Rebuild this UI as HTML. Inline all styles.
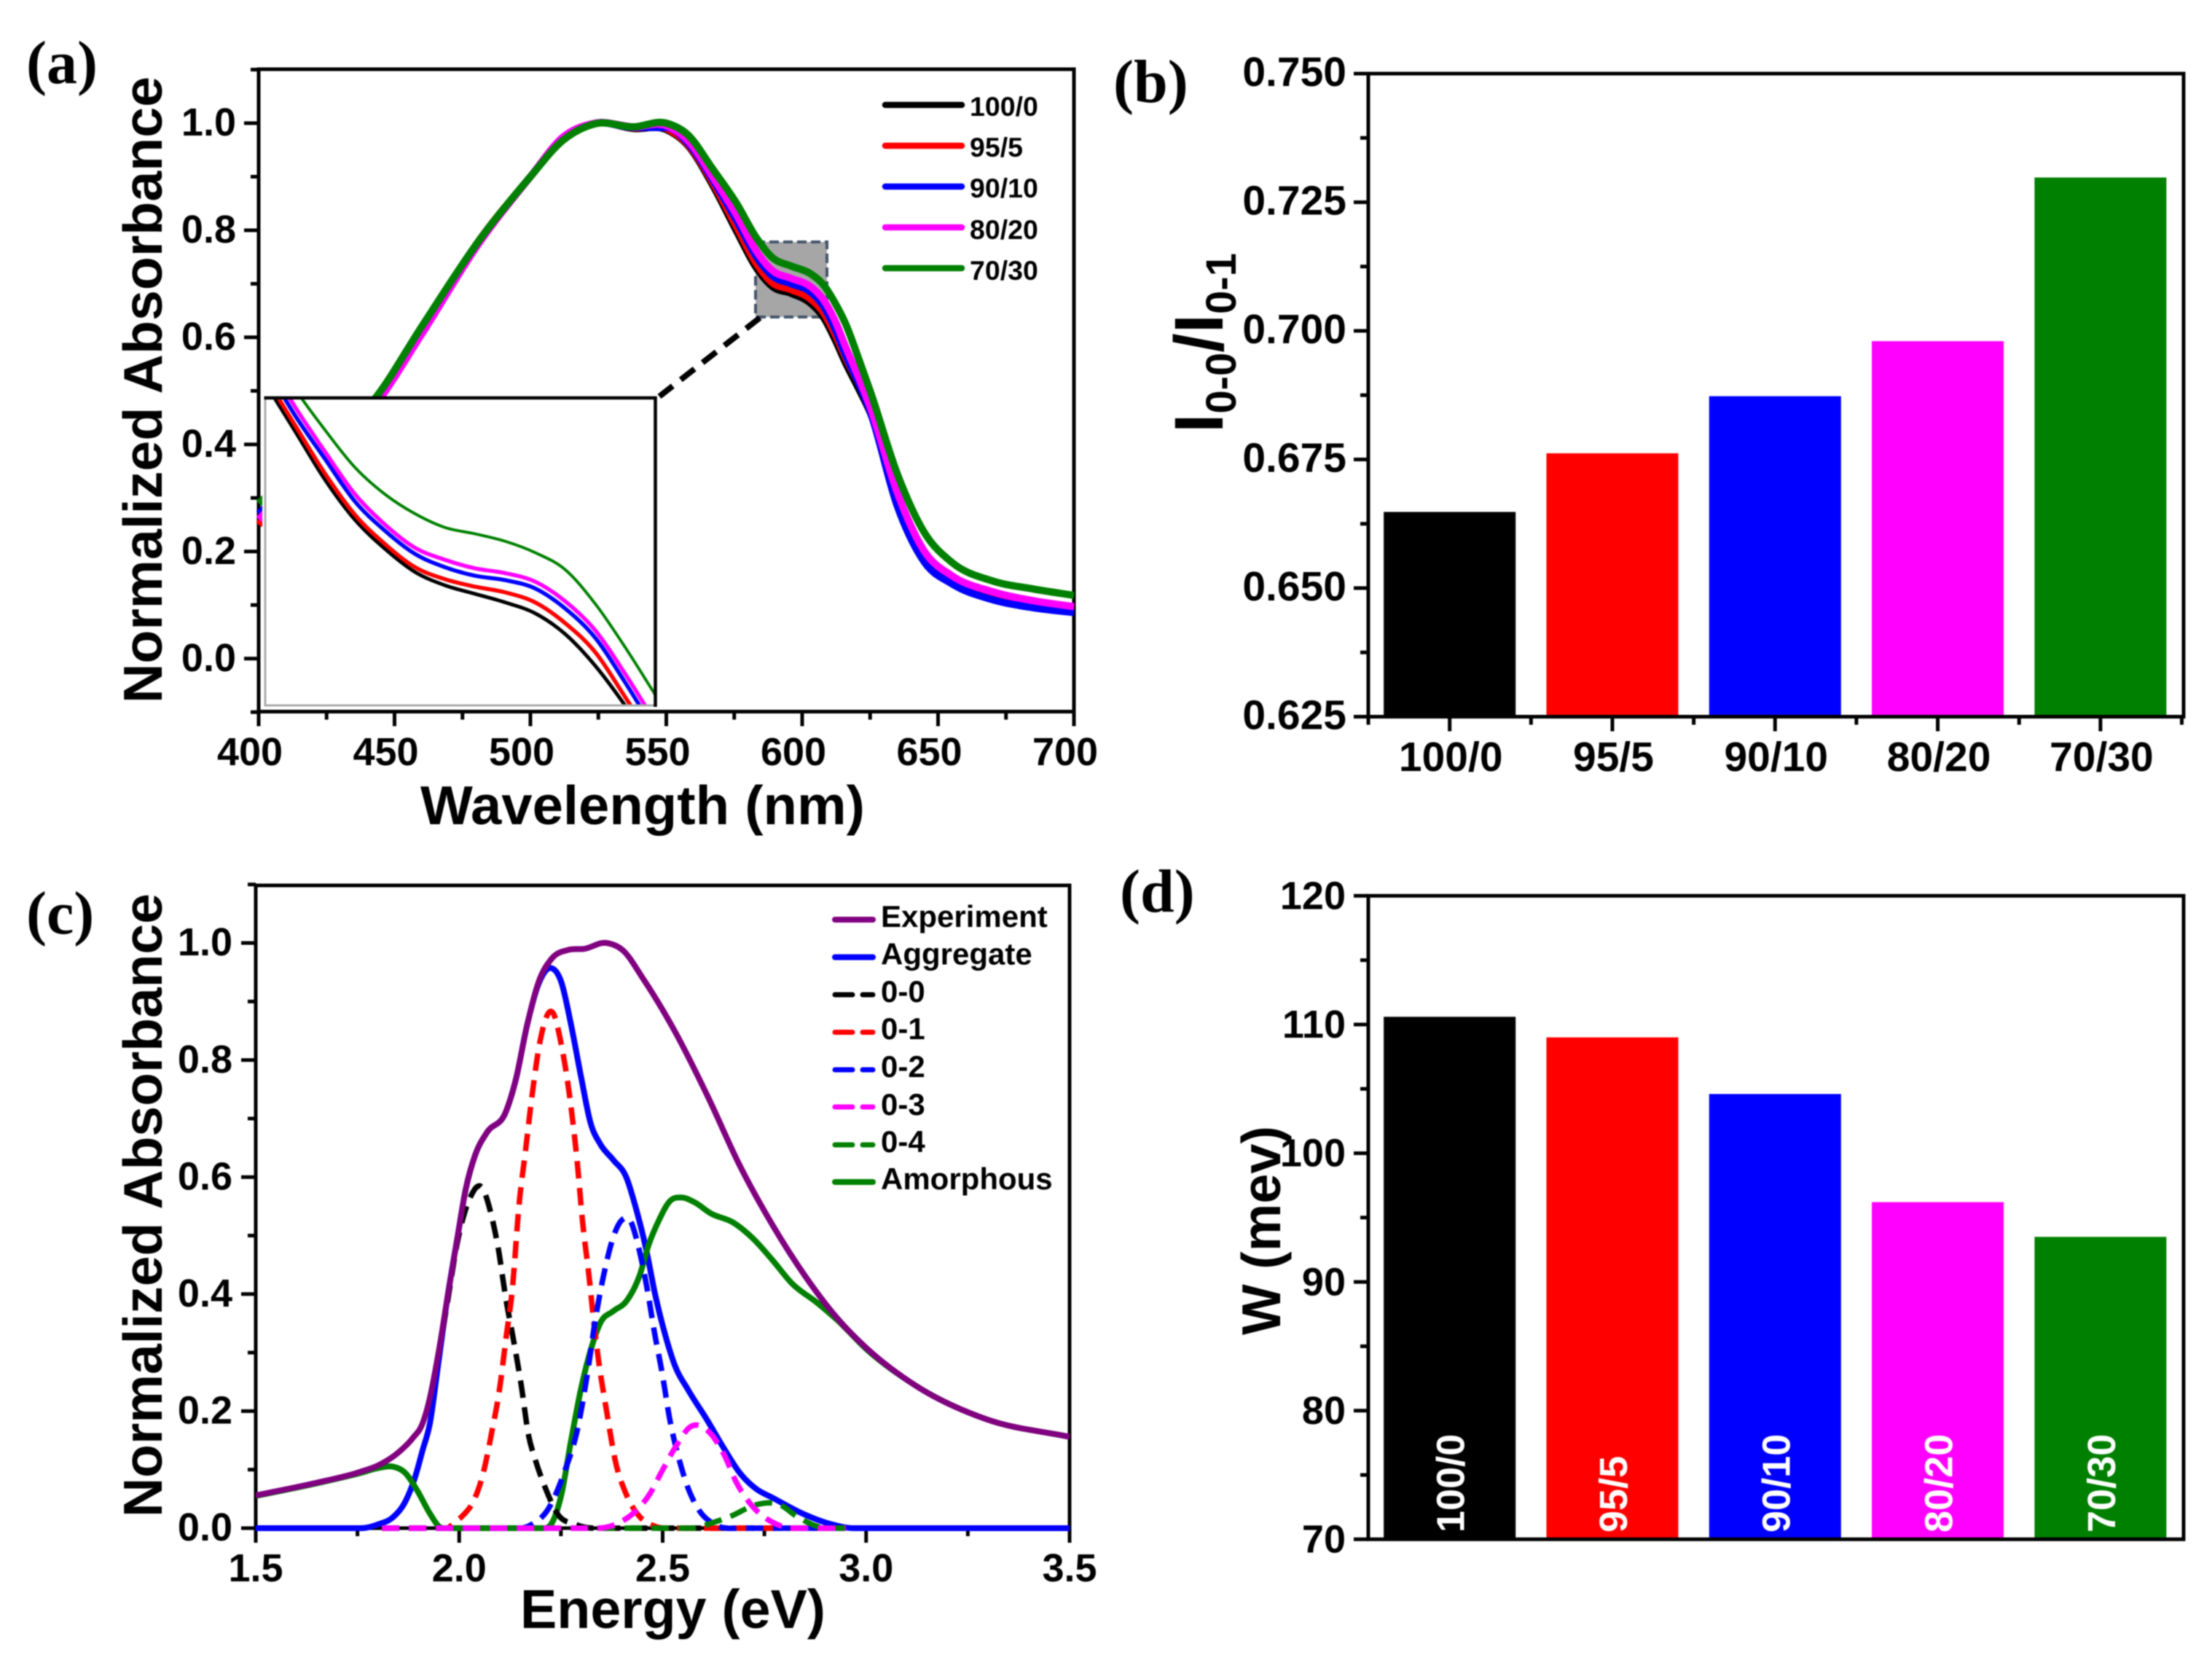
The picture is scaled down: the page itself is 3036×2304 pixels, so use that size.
<!DOCTYPE html>
<html lang="en">
<head>
<meta charset="utf-8">
<title>Absorbance panels</title>
<style>
html,body{margin:0;padding:0;background:#fff;}
svg{display:block;filter:blur(0.7px);}
text{font-family:"Liberation Sans",sans-serif;font-weight:bold;fill:#000;}
.panel-letter{font-family:"Liberation Serif",serif;font-size:84px;}
.axis-title{font-size:75px;}
.leg-a{font-size:37.5px;}
.leg-c{font-size:42px;}
.bar-label{font-size:54px;fill:#fff;}
</style>
</head>
<body>
<svg id="fig" xmlns="http://www.w3.org/2000/svg" width="3036" height="2304" viewBox="0 0 3036 2304">
<rect width="3036" height="2304" fill="#fff"/>
<defs>
<clipPath id="clip-a"><rect x="352" y="95" width="1124" height="882"/></clipPath>
<clipPath id="clip-inset"><rect x="365" y="548" width="533" height="419"/></clipPath>
<clipPath id="clip-c"><rect x="351" y="1215" width="1118" height="886"/></clipPath>
</defs>

<text class="panel-letter" x="36" y="114">(a)</text>
<text class="panel-letter" x="1528" y="140">(b)</text>
<text class="panel-letter" x="36" y="1281">(c)</text>
<text class="panel-letter" x="1537" y="1251">(d)</text>

<g id="panel-a"></g>
<g id="panel-b"></g>
<g id="panel-c"></g>
<g id="panel-d"></g>

<text class="axis-title" transform="translate(222,965) rotate(-90)" textLength="860" lengthAdjust="spacingAndGlyphs">Normalized Absorbance</text>
<text class="axis-title" x="577" y="1131" textLength="610" lengthAdjust="spacingAndGlyphs">Wavelength (nm)</text>
<text class="axis-title" transform="translate(222,2082) rotate(-90)" textLength="856" lengthAdjust="spacingAndGlyphs">Normalized Absorbance</text>
<text class="axis-title" x="714" y="2234" textLength="419" lengthAdjust="spacingAndGlyphs">Energy (eV)</text>
<text transform="translate(1678,594) rotate(-90)" font-size="95">I<tspan font-size="58" dy="18">0-0</tspan><tspan dy="-18">/I</tspan><tspan font-size="58" dy="18">0-1</tspan></text>
<text class="axis-title" transform="translate(1757,1832) rotate(-90)" textLength="287" lengthAdjust="spacingAndGlyphs">W (mev)</text>

<g stroke-linecap="round">
<line x1="1215" x2="1320" y1="144" y2="144" stroke="#000" stroke-width="8.5"/>
<text class="leg-a" x="1331" y="159">100/0</text>
<line x1="1215" x2="1320" y1="200" y2="200" stroke="#f00" stroke-width="8.5"/>
<text class="leg-a" x="1331" y="215">95/5</text>
<line x1="1215" x2="1320" y1="256" y2="256" stroke="#00f" stroke-width="8.5"/>
<text class="leg-a" x="1331" y="271">90/10</text>
<line x1="1215" x2="1320" y1="312" y2="312" stroke="#f0f" stroke-width="8.5"/>
<text class="leg-a" x="1331" y="328">80/20</text>
<line x1="1215" x2="1320" y1="368" y2="368" stroke="#008000" stroke-width="8.5"/>
<text class="leg-a" x="1331" y="384">70/30</text>
</g>

<g stroke-linecap="round">
<line x1="1146" x2="1198" y1="1262" y2="1262" stroke="#800080" stroke-width="8"/>
<text class="leg-c" x="1209" y="1272">Experiment</text>
<line x1="1146" x2="1198" y1="1313.5" y2="1313.5" stroke="#00f" stroke-width="8"/>
<text class="leg-c" x="1209" y="1323.5">Aggregate</text>
<line x1="1146" x2="1198" y1="1365" y2="1365" stroke="#000" stroke-width="7" stroke-dasharray="24 14"/>
<text class="leg-c" x="1209" y="1375">0-0</text>
<line x1="1146" x2="1198" y1="1416.5" y2="1416.5" stroke="#f00" stroke-width="7" stroke-dasharray="24 14"/>
<text class="leg-c" x="1209" y="1426">0-1</text>
<line x1="1146" x2="1198" y1="1468" y2="1468" stroke="#00f" stroke-width="7" stroke-dasharray="24 14"/>
<text class="leg-c" x="1209" y="1478">0-2</text>
<line x1="1146" x2="1198" y1="1519" y2="1519" stroke="#f0f" stroke-width="7" stroke-dasharray="24 14"/>
<text class="leg-c" x="1209" y="1530">0-3</text>
<line x1="1146" x2="1198" y1="1571" y2="1571" stroke="#008000" stroke-width="7" stroke-dasharray="24 14"/>
<text class="leg-c" x="1209" y="1581">0-4</text>
<line x1="1146" x2="1198" y1="1622" y2="1622" stroke="#008000" stroke-width="8"/>
<text class="leg-c" x="1209" y="1632">Amorphous</text>
</g>
</svg>

<script>
// ---------- panel (a) data ----------
const wavelengths = [400,420,443,460,481,500,512,524,538,550,558,567,576,583,589,596,603,608,612,616,621,625,635,645,655,670,685,700];
const abs100 = [.25,.37,.48,.612,.78,.90,.972,1.0,.99,.988,.958,.885,.797,.731,.695,.682,.664,.636,.597,.552,.502,.46,.30,.19,.15,.12,.105,.092];
const abs95 = [.25,.372,.48,.612,.78,.90,.972,1.0,.991,.99,.96,.89,.805,.739,.702,.689,.672,.645,.607,.562,.512,.465,.305,.195,.15,.12,.105,.095];
const abs90 = [.27,.37,.478,.61,.778,.90,.973,1.0,.992,.992,.963,.895,.817,.752,.715,.70,.685,.657,.617,.567,.512,.462,.285,.18,.14,.11,.095,.086];
const abs80 = [.26,.36,.474,.606,.775,.90,.974,1.0,.993,.995,.967,.90,.827,.762,.725,.71,.695,.669,.632,.582,.522,.47,.31,.20,.155,.125,.108,.097];
const abs70 = [.29,.38,.487,.62,.78,.90,.968,.999,.993,1.0,.978,.915,.849,.787,.749,.733,.719,.697,.665,.625,.557,.50,.345,.235,.18,.145,.13,.118];

const insetWavelengths = [583,585,587,589,591,593,595,597,599,601,603,605,607,609];
const inset100 = [.785,.7628,.7405,.7221,.7088,.6982,.6921,.6882,.6843,.6793,.6698,.6553,.6370,.6164];
const inset95 = [.788,.7655,.7433,.7244,.7110,.7004,.6949,.6915,.6889,.6843,.6748,.6615,.6409,.6197];
const inset90 = [.793,.7700,.7500,.7305,.7171,.7065,.7004,.6965,.6945,.6907,.6815,.6681,.6476,.6253];
const inset80 = [.797,.7739,.7533,.7338,.7199,.7093,.7038,.6999,.6977,.6938,.6848,.6715,.6515,.6295];
const inset70 = [.805,.7822,.7633,.7461,.7338,.7249,.7186,.7157,.7123,.7071,.6993,.6837,.6637,.6420];

const aXTicks = [400,450,500,550,600,650,700];
const aXMinor = [425,475,525,575,625,675];
const aYTicks = [0,.2,.4,.6,.8,1.0];
const aYMinor = [-.1,.1,.3,.5,.7,.9,1.1];
const aYLabels = ['0.0','0.2','0.4','0.6','0.8','1.0'];
const aXLabels = ['400','450','500','550','600','650','700'];

// ---------- panel (b) / (d) data ----------
const blendRatios = ['100/0','95/5','90/10','80/20','70/30'];
const ratioValues = [.6648,.6762,.6873,.698,.7298];
const widthValues = [110.6,109,104.6,96.2,93.5];
const bYTicks = [.625,.65,.675,.7,.725,.75];
const bYMinor = [.6375,.6625,.6875,.7125,.7375];
const bYLabels = ['0.625','0.650','0.675','0.700','0.725','0.750'];
const dYTicks = [70,80,90,100,110,120];
const dYMinor = [75,85,95,105,115];
const dYLabels = ['70','80','90','100','110','120'];
const barColors = ['#000','#f00','#00f','#f0f','#008000'];

// ---------- panel (c) data ----------
const expE = [1.5,1.652,1.756,1.803,1.85,1.886,1.91,1.924,1.952,1.972,1.996,2.016,2.04,2.068,2.115,2.139,2.167,2.195,2.227,2.267,2.307,2.363,2.403,2.451,2.53,2.61,2.69,2.77,2.85,2.93,3.002,3.123,3.296,3.5];
const expV = [.056,.078,.096,.108,.129,.154,.179,.211,.311,.398,.498,.579,.639,.676,.712,.766,.86,.933,.973,.988,.99,1.0,.987,.94,.849,.739,.619,.518,.431,.358,.307,.243,.186,.156];
const aggE = [1.5,1.76,1.803,1.838,1.868,1.892,1.91,1.928,1.948,1.972,1.996,2.016,2.04,2.068,2.115,2.139,2.167,2.195,2.227,2.251,2.275,2.299,2.323,2.347,2.379,2.411,2.435,2.459,2.482,2.506,2.53,2.562,2.61,2.65,2.69,2.73,2.77,2.85,2.913,2.97,3.5];
const aggV = [0,0,.007,.019,.046,.088,.133,.179,.278,.398,.498,.579,.639,.676,.712,.766,.86,.93,.957,.933,.86,.773,.692,.656,.629,.599,.545,.478,.398,.331,.278,.237,.184,.137,.094,.067,.052,.023,.007,0,0];
const p00E = [1.96,1.972,1.996,2.027,2.056,2.08,2.096,2.115,2.131,2.151,2.171,2.187,2.211,2.243,2.283,2.33,2.95];
const p00V = [.34,.39,.49,.565,.582,.532,.478,.391,.331,.251,.157,.117,.07,.023,.007,0,0];
const p01E = [1.81,1.97,1.987,2.011,2.035,2.059,2.08,2.099,2.115,2.131,2.147,2.163,2.179,2.199,2.231,2.251,2.275,2.291,2.303,2.319,2.331,2.343,2.363,2.383,2.411,2.443,2.482,2.53,2.95];
const p01V = [0,0,.009,.023,.046,.094,.164,.237,.324,.411,.552,.645,.739,.833,.88,.826,.719,.619,.525,.431,.351,.284,.197,.117,.057,.02,.003,0,0];
const p02E = [1.81,2.15,2.18,2.219,2.259,2.291,2.315,2.335,2.359,2.379,2.399,2.423,2.439,2.463,2.479,2.499,2.518,2.538,2.558,2.59,2.626,2.69,2.95];
const p02V = [0,0,.007,.033,.097,.17,.264,.358,.445,.498,.526,.522,.485,.405,.338,.264,.184,.124,.077,.03,.007,0,0];
const p03E = [1.81,2.339,2.395,2.435,2.467,2.498,2.53,2.57,2.61,2.65,2.682,2.714,2.77,2.825,2.95];
const p03V = [0,0,.01,.03,.057,.097,.137,.174,.167,.127,.077,.043,.01,0,0];
const p04E = [1.81,2.57,2.626,2.666,2.73,2.77,2.785,2.83,2.88,2.95];
const p04V = [0,0,.01,.02,.04,.043,.041,.02,.003,0];
const amoE = [1.5,1.652,1.756,1.803,1.838,1.868,1.898,1.928,1.952,1.97,2.211,2.231,2.251,2.275,2.299,2.323,2.347,2.379,2.411,2.443,2.466,2.49,2.518,2.546,2.578,2.618,2.674,2.722,2.77,2.818,2.88,2.93,3.002,3.123,3.296,3.5];
const amoV = [.055,.077,.094,.103,.105,.094,.063,.025,.002,0,0,.013,.057,.15,.237,.304,.351,.371,.388,.431,.485,.525,.559,.565,.557,.538,.522,.495,.458,.418,.385,.355,.305,.243,.186,.156];
const cXTicks = [1.5,2,2.5,3,3.5];
const cXMinor = [1.75,2.25,2.75,3.25];
const cXLabels = ['1.5','2.0','2.5','3.0','3.5'];
const cYTicks = [0,.2,.4,.6,.8,1.0];
const cYMinor = [.1,.3,.5,.7,.9,1.1];
const cYLabels = ['0.0','0.2','0.4','0.6','0.8','1.0'];

// ---------- axis functions ----------
const xA = v => 355 + (v - 400) * (1474 - 355) / 300;
const yA = v => 903.7 - v * 734.7;
const xIn = v => 363.7 + (v - 583) * 20.6;
const yIn = v => 546 + (.778 - v) * 2995;
const xB = i => 1989.7 + i * 223.3;
const yB = v => 983.5 - (v - .625) * (983.5 - 101) / .125;
const yD = v => 2112.3 - (v - 70) * (2112.3 - 1229.3) / 50;
const xC = v => 351 + (v - 1.5) * 558.5;
const yC = v => 2097 - v * 803;

const NS = 'http://www.w3.org/2000/svg';
function mk(tag, parent, props) {
  const el = document.createElementNS(NS, tag);
  for (const k in props) el.setAttribute(k, props[k]);
  parent.appendChild(el);
  return el;
}
function curve(xs, ys, fx, fy) {
  const X = xs.map(fx), Y = ys.map(fy), n = X.length;
  const d = [], m = new Array(n);
  for (let i = 0; i < n - 1; i++) d.push((Y[i + 1] - Y[i]) / (X[i + 1] - X[i]));
  m[0] = d[0]; m[n - 1] = d[n - 2];
  for (let i = 1; i < n - 1; i++) {
    if (d[i - 1] === 0 || d[i] === 0) m[i] = 0;
    else {
      const h0 = X[i] - X[i - 1], h1 = X[i + 1] - X[i];
      m[i] = (h1 * d[i - 1] + h0 * d[i]) / (h0 + h1);
    }
  }
  let s = 'M' + X[0].toFixed(2) + ' ' + Y[0].toFixed(2);
  for (let i = 0; i < n - 1; i++) {
    const h = (X[i + 1] - X[i]) / 3;
    s += 'C' + (X[i] + h).toFixed(2) + ' ' + (Y[i] + m[i] * h).toFixed(2) + ' ' +
      (X[i + 1] - h).toFixed(2) + ' ' + (Y[i + 1] - m[i + 1] * h).toFixed(2) + ' ' +
      X[i + 1].toFixed(2) + ' ' + Y[i + 1].toFixed(2);
  }
  return s;
}
function frame(g, l, t, r, b, name) {
  const f = mk('path', g, {d: `M${l} ${t}H${r}V${b}H${l}Z`, fill: 'none', stroke: '#000', 'stroke-width': 5});
  
  
}
function yTicks(g, ticks, labels, minor, fy, left, fs, labelRight, lift, name) {
  ticks.forEach((v, i) => {
    const t = mk('line', g, {x1: left - 20, x2: left, y1: fy(v), y2: fy(v), stroke: '#000', 'stroke-width': 5});
    
    
    const s = mk('text', g, {x: labelRight, y: fy(v) + fs * .355 - lift, 'text-anchor': 'end', 'font-size': fs});
    s.textContent = labels[i];
    
    
  });
  minor.forEach(v => {
    const t = mk('line', g, {x1: left - 11, x2: left, y1: fy(v), y2: fy(v), stroke: '#000', 'stroke-width': 5});
    
    
  });
}
function xTicks(g, ticks, labels, minor, fx, bottom, fs, baseline, shift, name) {
  ticks.forEach((v, i) => {
    const t = mk('line', g, {x1: fx(v), x2: fx(v), y1: bottom, y2: bottom + 20, stroke: '#000', 'stroke-width': 5});
    
    
    const s = mk('text', g, {x: fx(v) + shift, y: baseline, 'text-anchor': 'middle', 'font-size': fs});
    s.textContent = labels[i];
    
    
  });
  minor.forEach(v => {
    const t = mk('line', g, {x1: fx(v), x2: fx(v), y1: bottom, y2: bottom + 11, stroke: '#000', 'stroke-width': 5});
    
    
  });
}

// ---------- panel (a) ----------
const gA = document.getElementById('panel-a');
frame(gA, 355, 95, 1474, 976.5, 'panel-a');
yTicks(gA, aYTicks, aYLabels, aYMinor, yA, 355, 54, 324, 2, 'panel-a');
xTicks(gA, aXTicks, aXLabels, aXMinor, xA, 976.5, 54, 1050, -12, 'panel-a');

const zoomRect = mk('rect', gA, {x: 1037, y: 332, width: 98, height: 103, fill: '#a6a6a6', stroke: '#44546a', 'stroke-width': 4, 'stroke-dasharray': '13 6'});


const zoomLink = mk('line', gA, {x1: 1043, y1: 436, x2: 905, y2: 544, stroke: '#000', 'stroke-width': 8, 'stroke-dasharray': '24 14'});



const mainG = mk('g', gA, {'clip-path': 'url(#clip-a)', fill: 'none', 'stroke-width': 10});


[[abs100, '#000', '100-0'], [abs95, '#f00', '95-5'], [abs90, '#00f', '90-10'], [abs80, '#f0f', '80-20'], [abs70, '#008000', '70-30']].forEach(s => {
  const p = mk('path', mainG, {d: curve(wavelengths, s[0], xA, yA), stroke: s[1]});
  
  
});

const insetBg = mk('rect', gA, {x: 360, y: 546, width: 540, height: 427, fill: '#fff'});


const insetG = mk('g', gA, {'clip-path': 'url(#clip-inset)', fill: 'none'});


[[inset100, '#000', '100-0', 5], [inset95, '#f00', '95-5', 5.5], [inset90, '#00f', '90-10', 5.5], [inset80, '#f0f', '80-20', 5.5], [inset70, '#008000', '70-30', 4]].forEach(s => {
  const p = mk('path', insetG, {d: curve(insetWavelengths, s[0], xIn, yIn), stroke: s[1], 'stroke-width': s[3]});
  
  
});
const insetGray = mk('path', gA, {d: 'M364 546V968H899', fill: 'none', stroke: '#aaa', 'stroke-width': 3});


const insetBlack = mk('path', gA, {d: 'M362.5 546H899.5V970', fill: 'none', stroke: '#000', 'stroke-width': 4.5});



// ---------- bar panels ----------
function bars(gid, values, fy, name, floor) {
  const g = document.getElementById(gid);
  values.forEach((v, i) => {
    const b = mk('rect', g, {x: xB(i) - 90.5, width: 181, y: fy(v), height: fy(floor) - fy(v), fill: barColors[i]});
    
    
  });
  return g;
}
const gB = bars('panel-b', ratioValues, yB, 'panel-b', .625);
frame(gB, 1878, 101, 2997, 983.5, 'panel-b');
yTicks(gB, bYTicks, bYLabels, bYMinor, yB, 1878, 57, 1848, 3, 'panel-b');
xTicks(gB, [0, 1, 2, 3, 4], blendRatios, [-.5, .5, 1.5, 2.5, 3.5, 4.5], xB, 983.5, 57, 1058, 1.5, 'panel-b');

const gD = bars('panel-d', widthValues, yD, 'panel-d', 70);
frame(gD, 1878, 1229.3, 2997, 2112.3, 'panel-d');
yTicks(gD, dYTicks, dYLabels, dYMinor, yD, 1878, 54, 1847, 1, 'panel-d');
blendRatios.forEach((r, i) => {
  const t = mk('text', gD, {class: 'bar-label', transform: `translate(${xB(i) + 20},2103) rotate(-90)`});
  t.textContent = r;
  
  
});

// ---------- panel (c) ----------
const gC = document.getElementById('panel-c');
frame(gC, 351, 1215, 1468, 2097, 'panel-c');
yTicks(gC, cYTicks, cYLabels, cYMinor, yC, 351, 54, 319, 2, 'panel-c');
xTicks(gC, cXTicks, cXLabels, cXMinor, xC, 2097, 54, 2170, 0, 'panel-c');
const cG = mk('g', gC, {'clip-path': 'url(#clip-c)', fill: 'none'});


const aggCurve = mk('path', cG, {d: curve(aggE, aggV, xC, yC), stroke: '#00f', 'stroke-width': 8});


const amoCurve = mk('path', cG, {d: curve(amoE, amoV, xC, yC), stroke: '#008000', 'stroke-width': 8});


[[p00E, p00V, '#000', 'peak-0-0'], [p01E, p01V, '#f00', 'peak-0-1'], [p02E, p02V, '#00f', 'peak-0-2'], [p04E, p04V, '#008000', 'peak-0-4'], [p03E, p03V, '#f0f', 'peak-0-3']].forEach(s => {
  const p = mk('path', cG, {d: curve(s[0], s[1], xC, yC), stroke: s[2], 'stroke-width': 7.5, 'stroke-dasharray': '24 13'});
  
  
});
const expCurve = mk('path', cG, {d: curve(expE, expV, xC, yC), stroke: '#800080', 'stroke-width': 8});


</script>
</body>
</html>
